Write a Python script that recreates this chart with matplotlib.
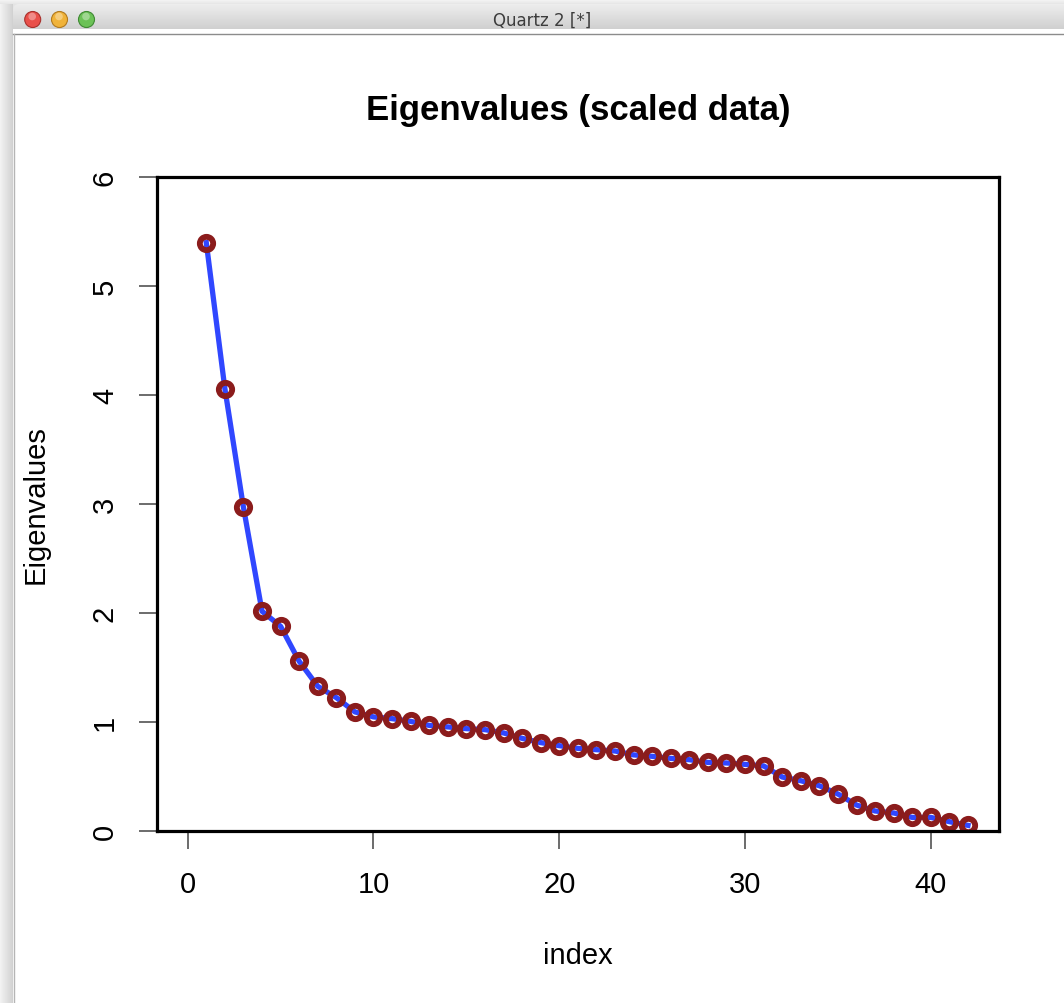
import numpy as np
import matplotlib
matplotlib.use("Agg")
import matplotlib.pyplot as plt
from matplotlib.patches import Rectangle, Circle, FancyBboxPatch

# eigenvalues
index = list(range(1, 43))
eigenvalues = [5.40, 4.06, 2.97, 2.015, 1.877, 1.556, 1.326, 1.222, 1.091, 1.045,
               1.029, 1.004, 0.967, 0.953, 0.937, 0.928, 0.898, 0.848, 0.809, 0.781,
               0.756, 0.744, 0.732, 0.696, 0.683, 0.664, 0.652, 0.627, 0.622, 0.609,
               0.595, 0.493, 0.459, 0.413, 0.337, 0.236, 0.181, 0.163, 0.122, 0.122,
               0.083, 0.049]
xticks = [0, 10, 20, 30, 40]
yticks = [0, 1, 2, 3, 4, 5, 6]

plt.rcParams["font.family"] = ["Liberation Sans", "DejaVu Sans"]

W, H = 1064, 1004
fig = plt.figure(figsize=(W / 100, H / 100), dpi=100)
fig.patch.set_facecolor("#e4e4e4")

# --- window frame (Quartz device window) ---
bg = fig.add_axes([0, 0, 1, 1], zorder=-1)
bg.set_xlim(0, W)
bg.set_ylim(H, 0)
bg.axis("off")

# left shadow
shade = np.linspace(0.95, 0.82, 32).reshape(1, -1)
bg.imshow(shade, cmap="gray", vmin=0, vmax=1, extent=(0, 13, H, 0), aspect="auto")
bg.imshow(np.linspace(0.97, 0.90, 16).reshape(-1, 1), cmap="gray", vmin=0, vmax=1,
          extent=(0, W, 5, 0), aspect="auto")

# window body
bg.add_patch(Rectangle((13, 30), W - 13, H - 30, facecolor="white", edgecolor="none"))

# title bar with gradient
bar = FancyBboxPatch((13, 5), W + 20, 40, boxstyle="round,pad=0,rounding_size=6",
                     facecolor="none", edgecolor="none")
bg.add_patch(bar)
grad = np.linspace(0.93, 0.79, 64).reshape(-1, 1)
im = bg.imshow(grad, cmap="gray", vmin=0, vmax=1, extent=(13, W, 35, 5), aspect="auto")
im.set_clip_path(bar)
bg.plot([13, W], [34.5, 34.5], color="#8c8c8c", lw=1.0)
bg.plot([13.5, 13.5], [35, H], color="#b5b5b5", lw=1.0)

# traffic lights
for cx, face, edge in [(32.7, "#e9504a", "#a8302c"),
                       (59.5, "#f0b33a", "#b27a1e"),
                       (86.5, "#6cc257", "#3f8a33")]:
    bg.add_patch(Circle((cx, 20.5), 8, facecolor=face, edgecolor=edge, lw=0.8))
    bg.add_patch(Circle((cx - 0.5, 17.5), 3.8, facecolor="white", edgecolor="none", alpha=0.35))

bg.text(542, 20.5, "Quartz 2 [*]", ha="center", va="center", fontsize=12,
        color="#3c3c3c", family=["DejaVu Sans Condensed", "DejaVu Sans"])

# --- the plot ---
ax = fig.add_axes([156.5 / W, 1 - 831.7 / H, (999 - 156.5) / W, (831.7 - 178.3) / H])
ax.plot(index, eigenvalues, color="#3047ff", lw=3.8, zorder=2)
ax.plot(index, eigenvalues, "o", ms=9.6, mfc="none", mec="#8b1c1c", mew=4.2, zorder=3)

ax.set_xlim(-1.68, 43.67)
ax.set_ylim(0, 6)
ax.set_xticks(xticks)
ax.set_yticks(yticks)
for s in ax.spines.values():
    s.set_linewidth(2.3)
    s.set_zorder(4)
ax.tick_params(axis="both", length=13, width=1.1, color="#444444",
               labelsize=21, direction="out")
ax.tick_params(axis="x", pad=15)
ax.tick_params(axis="y", pad=14, labelrotation=90)
for lab in ax.get_yticklabels():
    lab.set_va("center")

ax.set_title("Eigenvalues (scaled data)", fontsize=25, fontweight="bold", pad=42)
ax.set_xlabel("index", fontsize=21, labelpad=31)
ax.set_ylabel("Eigenvalues", fontsize=21, labelpad=30)

fig.savefig("out.png", dpi=100)
